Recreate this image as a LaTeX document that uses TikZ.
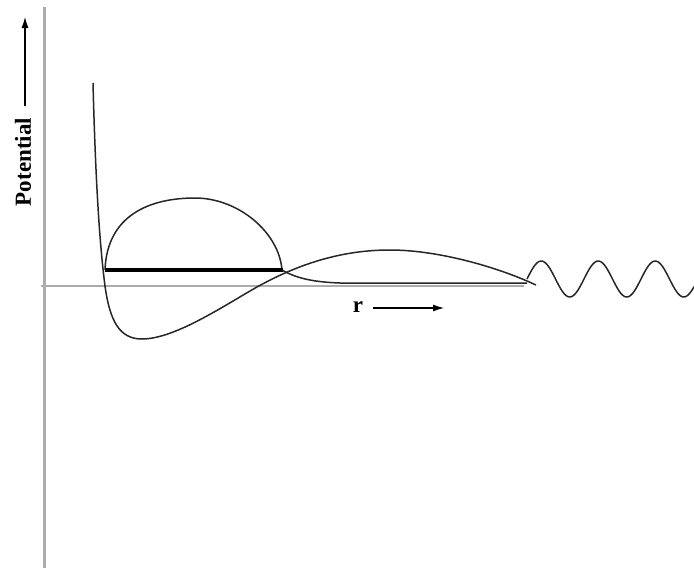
\documentclass[tikz,border=0pt]{standalone}
\usepackage{fontspec}
\setmainfont{Liberation Serif}
\usetikzlibrary{arrows.meta}
\begin{document}
\begin{tikzpicture}[x=1pt,y=-1pt,
  axisline/.style={draw=gray!65,line width=2.2pt},
  curve/.style={draw=black!85,line width=1.5pt,line join=round},
  level/.style={draw=black,line width=4pt},
  lbl/.style={font=\fontsize{23}{23}\selectfont\bfseries,inner sep=0pt},
  dirarrow/.style={draw=black,line width=1.1pt,-{Latex[length=11pt,width=7pt]}}]
\useasboundingbox (0,0) rectangle (694,570);
% axes
\coordinate (ytop) at (44.5,7);
\coordinate (ybot) at (44.5,568);
\coordinate (xl) at (41,286);
\coordinate (xr) at (524,286);
\draw[axisline] (ytop) -- (ybot);
\draw[axisline] (xl) -- (xr);
% potential curve
\draw[curve] (93,83) .. controls (96,200) and (101,255) .. (105,286)
  .. controls (110,322) and (120,339) .. (142,339)
  .. controls (175,339) and (225,305) .. (257,287)
  .. controls (302,262) and (345,250) .. (390,250)
  .. controls (435,250) and (490,265) .. (527,281)
  -- (536,285);
% wavefunction inside the well
\draw[curve] (105,270) .. controls (107,215) and (150,198) .. (195,198)
  .. controls (238,198) and (279,232) .. (282,270);
% tunnelling tail
\draw[curve] (282,270) .. controls (296,278) and (312,282) .. (340,283) -- (527,283);
% outgoing wave
\draw[curve] plot[domain=527:694,samples=120,smooth] (\x,{279-18*sin((\x-527)/57*360)});
% energy level
\draw[level] (105,270) -- (283,270);
% labels
\node[lbl,rotate=90] (pot) at (23,162) {Potential};
\coordinate (pa1) at (25,106);
\coordinate (pa2) at (25,17);
\draw[dirarrow] (pa1) -- (pa2);
\node[lbl] (r) at (358,307) {r};
\coordinate (ra1) at (373,308);
\coordinate (ra2) at (444,308);
\draw[dirarrow] (ra1) -- (ra2);
\end{tikzpicture}
\end{document}
